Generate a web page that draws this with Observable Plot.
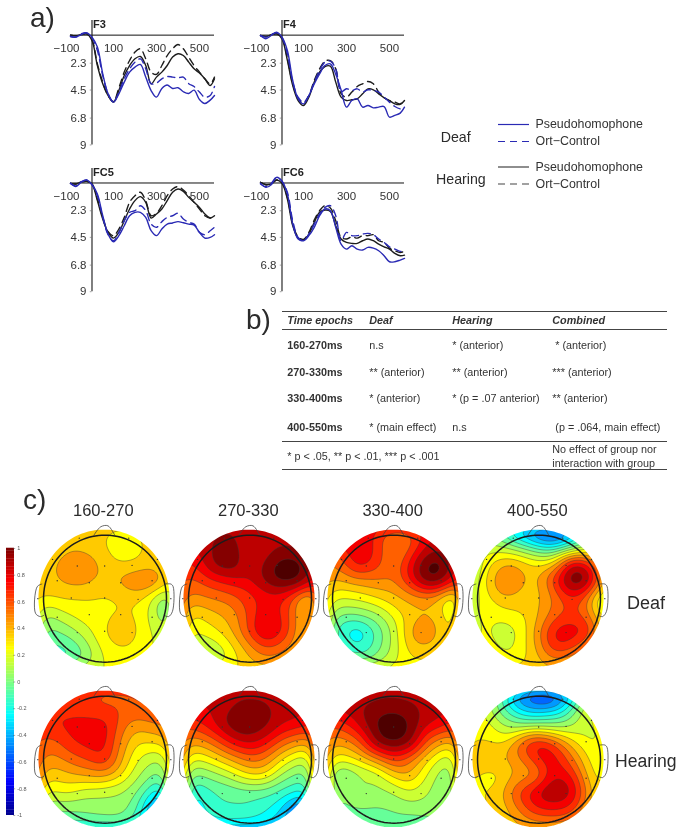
<!DOCTYPE html>
<html><head><meta charset="utf-8">
<script src="https://cdn.jsdelivr.net/npm/d3@7"></script>
<script src="https://cdn.jsdelivr.net/npm/@observablehq/plot@0.6"></script>
<style>
html,body{margin:0;padding:0;background:#fff}
#page{position:relative;width:679px;height:827px;overflow:hidden;font-family:"Liberation Sans",Arial,sans-serif;color:#2b2b2b;filter:blur(.35px)}
#page svg{position:absolute;background:transparent;overflow:hidden}
.t{position:absolute;white-space:pre;line-height:1;transform:translateY(-50%)}
.rule{position:absolute;left:282px;width:385px;height:0;border-top:1.2px solid #444}
</style></head><body><div id="page"></div>
<script>
// ---------- ERP waveforms (panel a) ----------
const times=[-100,-75,-50,-25,0,25,50,75,100,125,150,175,200,225,250,275,300,325,350,375,400,425,450,475,500,525,550,570];
const xTicks=[-100,100,300,500];
const yTicks=[2.3,4.5,6.8,9];
const F3_deafPseudo=[.11,.16,-.05,-.19,.16,.98,3.17,4.81,5.49,4.81,3.85,3.03,2.62,2.40,3.44,4.54,5.08,4.37,4.09,4.37,4.31,4.64,4.78,4.51,5.27,5.60,5.33,4.95];
const F3_deafOrt=[.11,.16,-.11,-.19,.22,1.26,3.31,4.81,5.49,4.67,3.58,2.76,2.21,1.94,2.76,3.98,3.93,3.58,3.39,3.44,3.50,3.44,3.98,4.21,4.67,5.08,4.95,4.21];
const F3_hearPseudo=[0,.05,-.05,-.11,.44,2.49,3.99,4.95,5.49,4.54,3.31,2.49,1.94,1.75,2.49,3.99,3.44,3.03,2.49,1.8,1.53,1.67,2.21,2.76,3.11,3.58,4.13,3.58];
const F3_hearOrt=[0,.05,-.03,-.11,.38,2.35,3.85,4.95,5.44,4.32,3.03,2.08,1.39,1.12,1.94,3.03,3.22,2.49,1.67,1.12,.77,1.12,1.8,2.49,3.03,3.58,3.99,3.44];
const F4_deafPseudo=[.03,.3,.03,-.25,.16,1.26,3.72,5.22,5.63,4.95,3.99,3.17,2.49,2.35,3.2,4.5,5.9,5.36,5.22,5.9,5.77,5.96,5.9,5.85,6.72,6.58,6.39,5.9];
const F4_deafOrt=[.03,.16,-.03,-.19,.22,1.53,3.85,5.08,5.49,4.95,3.85,2.89,2.21,2.13,2.76,4.64,4.4,4.54,4.4,4.67,4.48,4.54,4.67,5.08,5.49,5.85,6.04,6.04];
const F4_hearPseudo=[.03,.11,-.03,-.11,.3,2.07,4.13,5.36,5.77,5.08,3.85,3.03,2.57,2.54,3.85,5.08,5.36,5.3,5.22,4.81,4.4,4.48,4.81,5.13,5.36,5.63,5.68,5.36];
const F4_hearOrt=[.03,.11,-.05,-.11,.22,1.94,3.99,5.22,5.57,4.95,3.72,2.76,2.13,2.08,2.76,4.8,5.08,4.67,4.21,3.99,3.8,3.99,4.67,5.13,5.36,5.49,5.63,5.36];
const FC5_deafPseudo=[.03,.3,-.06,-.25,.14,.91,2.71,4.23,4.86,4.36,3.54,2.71,2.43,2.43,2.85,3.95,4.36,3.81,3.4,3.31,3.2,3.29,3.4,3.48,4.09,4.56,4.5,4.28];
const FC5_deafOrt=[.03,.25,-.11,-.25,.14,1.05,2.85,4.28,4.78,4.09,3.12,2.43,2.29,1.88,2.29,3.4,3.67,3.2,2.85,2.71,2.51,2.98,3.26,3.4,4.09,4.28,3.95,3.67];
const FC5_hearPseudo=[.03,.08,-.08,-.14,.08,1.46,2.98,4.09,4.56,4.09,3.12,2.15,1.46,1.13,1.6,2.9,2.57,2.15,1.46,.77,.5,.69,1.19,1.6,2.02,2.57,2.9,2.71];
const FC5_hearOrt=[.03,.08,-.08,-.14,.08,1.33,2.85,4.03,4.36,3.81,2.85,1.6,1.05,.77,1.46,2.71,2.51,1.88,1.05,.5,.3,.58,1.05,1.6,2.15,2.71,2.9,2.62];
const FC6_deafPseudo=[.03,.36,.14,-.47,-.14,.91,3.4,4.64,4.78,4.36,3.67,2.71,2.15,2.29,3.67,5.06,5.47,5.19,5.47,5.55,5.33,5.39,5.61,6.02,6.52,6.52,6.38,6.24];
const FC6_deafOrt=[.08,.3,.03,-.47,-.14,.77,3.12,4.5,4.78,4.23,3.4,2.57,2.02,1.88,2.71,4.78,4.09,4.36,4.36,4.23,4.17,4.28,4.64,4.92,5.28,5.47,5.66,5.61];
const FC6_hearPseudo=[-.06,.14,.08,-.25,.03,1.33,3.54,4.56,4.72,4.23,3.26,2.43,2.24,2.35,3.54,4.64,4.92,5,5,4.78,4.64,4.78,5.06,5.28,5.47,5.83,6.02,5.97];
const FC6_hearOrt=[-.06,.14,.08,-.25,-.03,1.19,3.4,4.45,4.67,4.09,3.07,2.29,1.88,2.07,3.12,4.5,4.64,4.45,4.56,4.36,4.36,4.28,4.78,4.92,5.39,5.61,5.75,5.66];

// ---------- Scalp maps (panel c): values on a 9x9 sampling grid, top row first ----------
const deaf160=[
.3,.3,.35,.35,.3,.27,.3,.3,.3,
.35,.35,.38,.35,.3,.24,.26,.35,.3,
.35,.38,.5,.5,.35,.28,.3,.36,.3,
.35,.38,.44,.44,.35,.45,.56,.58,.3,
.3,.3,.3,.3,.28,.3,.33,.18,-.25,
.05,.12,.22,.26,.28,.3,.28,.15,-.15,
-.05,-.02,.05,.18,.3,.44,.3,.2,.05,
-.15,-.12,-.1,.05,.25,.3,.28,.2,.1,
-.2,-.25,-.2,0,.2,.25,.25,.2,.1];
const deaf270=[
.85,.85,.88,.9,.82,.82,.82,.82,.78,
.8,.82,.95,1,.78,.82,.92,.88,.8,
.65,.72,.98,1,.78,.95,1.08,1.08,.85,
.55,.58,.68,.75,.78,.95,1.08,1.08,.7,
.45,.48,.5,.55,.65,.72,.72,.45,.1,
.25,.3,.38,.42,.62,.8,.68,.45,.2,
.2,.22,.28,.4,.65,.95,.72,.45,.2,
.05,.1,.12,.28,.45,.6,.55,.38,.2,
-.05,0,.05,.2,.35,.45,.4,.3,.2];
const deaf330=[
.7,.8,.82,.65,.45,.5,.75,.82,.7,
.6,.7,.85,.68,.48,.55,.82,.88,.72,
.45,.55,.82,.65,.48,.75,1.08,1.08,.75,
.4,.38,.45,.5,.48,.72,1.05,1,.55,
.2,.2,.22,.3,.36,.42,.45,.3,-.1,
.05,0,.02,.05,.22,.35,.38,.32,.1,
-.05,-.2,-.36,-.1,.12,.44,.55,.32,.2,
-.05,-.1,-.22,-.05,.12,.35,.38,.3,.2,
0,0,0,.05,.15,.25,.28,.25,.2];
const deaf400=[
.1,0,-.2,-.55,-.9,-1,-.55,-.1,.2,
.1,.18,.15,.05,-.08,-.15,0,.12,.25,
-.05,.3,.45,.4,.3,.35,.95,.8,.4,
.2,.3,.62,.42,.35,.72,1.1,1,.4,
.2,.25,.4,.36,.36,.5,.68,.5,-.1,
.25,.25,.27,.27,.38,.55,.6,.55,.15,
.2,.22,.08,.22,.48,.78,.82,.75,.3,
.3,.28,.15,.25,.42,.72,.62,.45,.3,
.35,.3,.25,.25,.3,.4,.4,.35,.3];
const hearing160=[
.7,.7,.65,.6,.55,.55,.6,.65,.6,
.68,.68,.65,.62,.6,.6,.6,.62,.6,
.65,.72,.75,.78,.78,.55,.42,.5,.5,
.55,.55,.7,.75,.78,.48,.28,.33,.3,
.5,.45,.55,.62,.75,.42,.2,.12,.05,
.35,.33,.38,.42,.45,.32,.12,-.02,-.05,
.15,.2,.25,.12,.1,.1,.02,-.25,-.35,
0,0,0,.03,.05,.05,-.08,-.5,-.7,
-.1,-.1,-.05,-.05,-.02,0,-.15,-.4,-.4];
const hearing270=[
.8,.85,.85,.85,.85,.85,.85,.85,.8,
.75,.78,.82,.9,.98,.95,.85,.85,.8,
.62,.68,.82,1,1.02,.95,.8,.78,.65,
.4,.42,.55,.75,.85,.75,.55,.45,.35,
.22,.2,.3,.42,.55,.5,.28,.15,.08,
-.03,-.02,.05,.15,.3,.32,.05,-.05,-.05,
-.2,-.22,-.1,-.1,-.08,-.08,-.12,-.2,-.2,
-.3,-.25,-.1,-.1,-.1,-.18,-.32,-.6,-.5,
-.35,-.3,-.2,-.18,-.2,-.25,-.4,-.5,-.4];
const hearing330=[
.82,.85,.85,.85,.85,.85,.85,.85,.7,
.8,.85,.9,.95,1,.95,.88,.85,.75,
.6,.65,.82,1.05,1.08,1.05,.82,.75,.6,
.4,.42,.55,.98,1.08,1,.55,.4,.3,
.22,.25,.3,.45,.68,.5,.3,.15,.05,
0,-.1,.05,.1,.3,.42,.2,.02,-.02,
.05,.02,.22,.05,.08,.22,.12,0,-.02,
-.05,-.02,0,0,.02,.05,.05,0,0,
-.15,-.15,-.12,-.12,-.08,-.12,-.05,0,0];
const hearing400=[
.3,.2,-.15,-.65,-.9,-.85,-.3,.2,.35,
.25,.15,-.12,-.35,-.42,-.35,-.1,.2,.35,
.28,.26,.1,.02,.05,.05,.1,.2,.2,
.3,.32,.28,.62,.82,.62,.35,.2,.12,
.35,.42,.38,.5,.72,.78,.55,.3,.12,
.35,.18,.3,.42,.42,.8,.75,.35,.15,
.3,.3,.42,.68,.88,.95,.88,.45,.2,
.25,.3,.35,.55,.72,.75,.68,.38,.2,
.25,.3,.35,.38,.42,.45,.42,.35,.25];
const gridAxis=[-1,-.75,-.5,-.25,0,.25,.5,.75,1];
const electrodes=[[-.4,.48],[-.7,.26],[-.22,.23],[.01,.48],[.42,.49],[.25,.23],[.72,.26],[-.49,0],[.01,0],[.51,-.02],[-.22,-.25],[.25,-.25],[.72,-.29],[-.7,-.29],[-.4,-.52],[.01,-.5],[.42,-.52],[1.0,-.01],[-.99,-.01],[-.77,.58],[.8,.58],[-.37,.9],[.37,.9]];
const earLeft=[[-.93,.21],[-1,.17],[-1.025,-.23],[-.95,-.28],[-.9,-.26]];
const earRight=[[.93,.21],[1,.21],[1.035,.17],[1.025,-.2],[.965,-.28],[.9,-.26]];
const nose=[[-.15,.945],[-.05,1.07],[.06,1.085],[.16,.945]];

// ---------- Text ----------
const colorTicks=[1,.8,.6,.4,.2,0,-.2,-.4,-.6,-.8,-1];
const jetStops=[-1,-.75,-.25,.25,.75,1];
const fieldStops=[-1.05,-.8,-.3,.2,.68,.92];
const jetColors=["#00008c","#0000ff","#00ffff","#ffff00","#ff0000","#7a0000"];
const tableHeader=["Time epochs","Deaf","Hearing","Combined"];
const tableEpochs=["160-270ms","270-330ms","330-400ms","400-550ms"];
const tableDeaf=["n.s","** (anterior)","* (anterior)","* (main effect)"];
const tableHearing=["* (anterior)","** (anterior)","* (p = .07 anterior)","n.s"];
const tableCombined=[" * (anterior)","*** (anterior)","** (anterior)"," (p = .064, main effect)"];
const seriesStyle=[
 {key:"hearOrt",stroke:"#1d1d1d",dash:"7,5",label:"Ort\u2212Control",row:3.5},
 {key:"hearPseudo",stroke:"#1d1d1d",dash:null,label:"Pseudohomophone",row:2.5},
 {key:"deafOrt",stroke:"#2a2ab4",dash:"7,5",label:"Ort\u2212Control",row:1},
 {key:"deafPseudo",stroke:"#2a2ab4",dash:null,label:"Pseudohomophone",row:0}];

const page=document.getElementById("page");
const FONT='"Liberation Sans",Arial,sans-serif';
function place(el,left,top){el.style.left=left+"px";el.style.top=top+"px";page.appendChild(el);}
function txt(s,x,y,style){const d=document.createElement("div");d.className="t";d.textContent=s;Object.assign(d.style,style||{});place(d,x,y);return d;}

// ---------- ERP panels ----------
function erp(name,data,left,top,pxPerUnit){
  const marks=[
    Plot.ruleX([0],{y1:-1.2,y2:9,stroke:"#555",strokeWidth:1.5}),
    Plot.ruleY([0],{x1:-100,x2:570,stroke:"#111",strokeWidth:1}),
    Plot.ruleY(yTicks,{x1:-8,x2:0,stroke:"#666",strokeWidth:.6})
  ];
  for(const s of seriesStyle) marks.push(Plot.line(data[s.key],{x:(d,i)=>times[i],y:d=>d,curve:"catmull-rom",stroke:s.stroke,strokeWidth:1.4,strokeDasharray:s.dash||undefined}));
  marks.push(
    Plot.text(xTicks.filter(d=>d>0),{x:d=>d,y:0,dy:13.6,text:d=>String(d),fontSize:11.5,fill:"#333"}),
    Plot.text(xTicks.filter(d=>d<0),{x:d=>d,y:0,dy:13.6,dx:-4,text:d=>"\u2212"+Math.abs(d),fontSize:11.5,fill:"#333"}),
    Plot.text(yTicks,{x:0,y:d=>d,dx:-5.5,textAnchor:"end",text:d=>String(d),fontSize:11.5,fill:"#333"}),
    Plot.text([name],{x:0,y:-.88,dx:1,textAnchor:"start",text:d=>d,fontSize:11,fontWeight:"bold",fill:"#222"})
  );
  const h=Math.round(15+10.2*pxPerUnit+12);
  const svg=Plot.plot({width:30+144+6,height:h,marginLeft:30,marginRight:6,marginTop:15,marginBottom:h-15-10.2*pxPerUnit,
    style:{fontFamily:FONT,background:"transparent"},
    x:{domain:[-100,570],axis:null},y:{domain:[-1.2,9],reverse:true,axis:null},marks});
  place(svg,left,top);
}
const panel=(a,b,c,d)=>({deafPseudo:a,deafOrt:b,hearPseudo:c,hearOrt:d});
erp("F3",panel(F3_deafPseudo,F3_deafOrt,F3_hearPseudo,F3_hearOrt),40,5,12.2);
erp("F4",panel(F4_deafPseudo,F4_deafOrt,F4_hearPseudo,F4_hearOrt),230.2,5,12.2);
erp("FC5",panel(FC5_deafPseudo,FC5_deafOrt,FC5_hearPseudo,FC5_hearOrt),40,152.8,12.08);
erp("FC6",panel(FC6_deafPseudo,FC6_deafOrt,FC6_hearPseudo,FC6_hearOrt),230.2,152.8,12.08);

// ---------- Legend ----------
{
  const marks=[];
  for(const s of seriesStyle){
    marks.push(Plot.ruleY([s.row],{x1:0,x2:1,stroke:s.stroke==="#1d1d1d"?"#444":s.stroke,strokeWidth:1.2,strokeDasharray:s.dash||undefined}));
    marks.push(Plot.text([s.label],{x:1,y:s.row,dx:6,textAnchor:"start",text:d=>d,fontSize:12.4,fill:"#333"}));
  }
  place(Plot.plot({width:31+125,height:79.5,marginLeft:0,marginRight:125,marginTop:10,marginBottom:10,
    style:{fontFamily:FONT,background:"transparent"},
    x:{domain:[0,1],axis:null},y:{domain:[0,3.5],reverse:true,axis:null},marks}),497.5,114.3);
}
txt("Deaf",440.7,137,{fontSize:14.2+"px"});
txt("Hearing",436,179,{fontSize:14.2+"px"});

// ---------- Table ----------
[311,329.3,441,469.3].forEach(y=>{const r=document.createElement("div");r.className="rule";place(r,282,y);});
const colX=[287.3,369.3,452.3,552.3];
const fs={fontSize:"10.8px",color:"#333"};
tableHeader.forEach((h,i)=>txt(h,colX[i],320,{...fs,fontStyle:"italic",fontWeight:"bold"}));
const rowY=[344.5,371.7,398.3,426.7];
tableEpochs.forEach((s,i)=>{
  txt(s,colX[0],rowY[i],{...fs,fontWeight:"bold"});
  txt(tableDeaf[i],colX[1],rowY[i],fs);
  txt(tableHearing[i],colX[2],rowY[i],fs);
  txt(tableCombined[i],colX[3],rowY[i],fs);
});
txt("* p < .05, ** p < .01, *** p < .001",287.3,455.7,fs);
txt("No effect of group nor",552.3,449.3,fs);
txt("interaction with group",552.3,462.7,fs);

// ---------- Panel letters and titles ----------
txt("a)",30,17.5,{fontSize:"28px"});
txt("b)",246,320,{fontSize:"28px"});
txt("c)",23,500,{fontSize:"28px"});
const mapCx=[103.3,248.3,392.7,537.3];
["160-270","270-330","330-400","400-550"].forEach((s,i)=>{
  const d=txt(s,mapCx[i],510,{fontSize:"16.5px"});d.style.transform="translate(-50%,-50%)";});
txt("Deaf",627,603,{fontSize:"18px"});
txt("Hearing",615,761.7,{fontSize:"17.6px"});

// ---------- Colour bar ----------
{
  const bands=d3.range(-1,1,.02);
  place(Plot.plot({width:26,height:277,marginLeft:0,marginRight:18,marginTop:5,marginBottom:5,
    style:{fontFamily:FONT,background:"transparent"},
    x:{domain:[0,1],axis:null},y:{domain:[-1,1],axis:null},
    color:{type:"linear",domain:jetStops,range:jetColors},
    marks:[
      Plot.rect(bands,{x1:0,x2:1,y1:d=>d,y2:d=>d+.022,fill:d=>d+.01}),
      Plot.ruleY(colorTicks,{x1:.9,x2:1.15,stroke:"#555",strokeWidth:.5}),
      Plot.text(colorTicks,{x:1.15,y:d=>d,dx:1.5,textAnchor:"start",text:d=>String(d),fontSize:5.5,fill:"#555"})
    ]}),6,543);
}

// ---------- Scalp maps ----------
const ringOuter=d3.range(0,361,3).map(a=>[Math.cos(a*Math.PI/180),Math.sin(a*Math.PI/180)]);
const thresholds=d3.range(-1,1.01,.1);
function scalp(values,cx,cy){
  const S=66.7,xd=[-1.085,1.085],yd=[-1.09,1.12];
  const pts=values.map((v,i)=>({x:gridAxis[i%9],y:gridAxis[8-Math.floor(i/9)],v}));
  const svg=Plot.plot({width:Math.round((xd[1]-xd[0])*S),height:Math.round((yd[1]-yd[0])*S),margin:0,
    style:{fontFamily:FONT,background:"transparent"},
    x:{domain:xd,axis:null},y:{domain:yd,axis:null},
    color:{type:"linear",domain:fieldStops,range:jetColors},
    marks:[
      Plot.contour(pts,{x:"x",y:"y",fill:"v",interpolate:"barycentric",thresholds,blur:7,pixelSize:1,stroke:"#3a3a3a",strokeWidth:.5,strokeOpacity:.8}),
      // white surround that trims the square field to the scalp disc
      Plot.line(ringOuter,{x:d=>d[0]*(.98+.6),y:d=>d[1]*(1.03+.6),stroke:"white",strokeWidth:80}),
      Plot.dot(electrodes,{x:d=>d[0],y:d=>d[1],r:.7,fill:"#333",stroke:"none"}),
      Plot.line(earLeft,{x:d=>d[0],y:d=>d[1],curve:"catmull-rom",stroke:"#444",strokeWidth:.8}),
      Plot.line(earRight,{x:d=>d[0],y:d=>d[1],curve:"catmull-rom",stroke:"#444",strokeWidth:.8}),
      Plot.line(nose,{x:d=>d[0],y:d=>d[1],curve:"catmull-rom",stroke:"#444",strokeWidth:.8}),
      Plot.line(ringOuter,{x:d=>.015+d[0]*.92,y:d=>-.01+d[1]*.955,stroke:"#1c1c1c",strokeWidth:1.5})
    ]});
  place(svg,cx-1.085*S,cy-1.12*S);
}
[deaf160,deaf270,deaf330,deaf400].forEach((m,i)=>scalp(m,mapCx[i],598));
[hearing160,hearing270,hearing330,hearing400].forEach((m,i)=>scalp(m,mapCx[i],759));
</script></body></html>
